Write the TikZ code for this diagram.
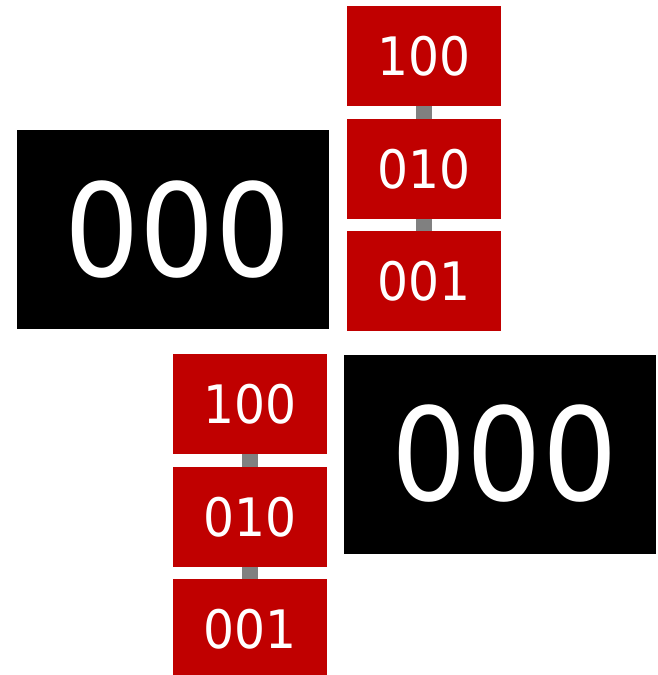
\documentclass[tikz,border=0pt]{standalone}
\usepackage{fontspec}
\setmainfont{DejaVu Sans}[FakeStretch=0.92]
\usetikzlibrary{positioning}

\definecolor{bitred}{RGB}{192,0,0}

\begin{document}
\begin{tikzpicture}[x=1pt,y=-1pt,
    bigbox/.style={fill=black,text=white,inner sep=0pt,minimum width=312pt,minimum height=199pt,
        font=\fontsize{129}{129}\selectfont,execute at begin node=\hspace*{9pt}},
    bitbox/.style={fill=bitred,text=white,inner sep=0pt,minimum width=154pt,minimum height=100pt,
        font=\fontsize{53}{53}\selectfont},
    link/.style={draw=gray,line width=16pt}]

\useasboundingbox (0,0) rectangle (657,675);

% upper group
\node[bigbox] (zeroA) at (173,229.5) {000};
\node[bitbox] (a1) at (424,56) {100};
\node[bitbox] (a2) at (424,169) {010};
\node[bitbox] (a3) at (424,281) {001};
\draw[link] (a1.south) -- (a2.north);
\draw[link] (a2.south) -- (a3.north);

% lower group
\node[bigbox] (zeroB) at (500,454) {000};
\node[bitbox] (b1) at (250,404) {100};
\node[bitbox] (b2) at (250,517) {010};
\node[bitbox] (b3) at (250,629) {001};
\draw[link] (b1.south) -- (b2.north);
\draw[link] (b2.south) -- (b3.north);

\end{tikzpicture}
\end{document}
